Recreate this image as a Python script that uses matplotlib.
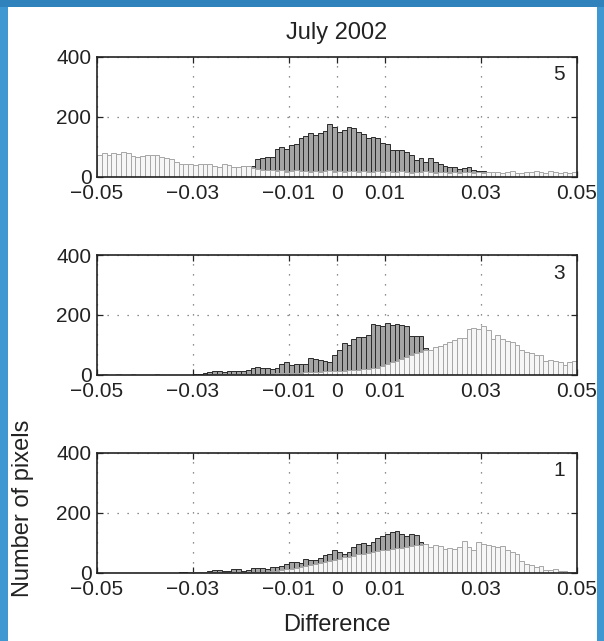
import matplotlib.pyplot as plt
from matplotlib.patches import Rectangle
import numpy as np

plt.rcParams['font.family'] = ['Liberation Sans', 'DejaVu Sans']

# bin edges of the histograms: 100 bins of 0.001 between -0.05 and 0.05
bin_lo = -0.05
bin_w = 0.001

# panel "5"
dark5 = [12, 15, 14, 18, 16, 20, 17, 15, 18, 16,
         14, 17, 15, 16, 18, 15, 17, 14, 16, 18,
         17, 19, 18, 20, 22, 21, 24, 23, 26, 30,
         37, 37, 37, 59, 62, 68, 68, 95, 101, 95,
         107, 109, 129, 137, 148, 140, 148, 154, 177, 168,
         151, 157, 166, 162, 151, 145, 129, 135, 129, 112,
         110, 90, 90, 90, 84, 73, 57, 62, 51, 62,
         51, 43, 37, 32, 32, 26, 29, 34, 23, 21,
         21, 15, 10, 8, 7, 6, 5, 5, 4, 4,
         3, 3, 2, 2, 2, 1, 1, 1, 1, 1]
light5 = [73, 79, 73, 81, 77, 85, 79, 71, 68, 71,
          73, 73, 73, 68, 64, 59, 51, 45, 42, 43,
          40, 43, 45, 43, 37, 32, 45, 40, 32, 35,
          37, 37, 30, 28, 25, 22, 24, 20, 22, 18,
          20, 22, 19, 21, 18, 20, 17, 19, 22, 18,
          20, 17, 19, 21, 18, 20, 16, 18, 20, 17,
          19, 16, 18, 20, 17, 15, 18, 16, 19, 17,
          15, 18, 16, 14, 17, 15, 18, 16, 14, 17,
          15, 17, 18, 16, 14, 17, 19, 15, 13, 18,
          16, 20, 17, 14, 19, 16, 15, 18, 14, 17]

# panel "3"
dark3 = [0, 0, 1, 0, 0, 1, 0, 0, 0, 1,
         0, 0, 0, 1, 0, 0, 0, 0, 1, 0,
         2, 3, 6, 10, 14, 12, 9, 12, 14, 14,
         15, 17, 24, 27, 22, 22, 21, 24, 38, 42,
         35, 37, 38, 38, 57, 52, 49, 47, 44, 68,
         82, 107, 100, 120, 126, 126, 133, 169, 166, 162,
         173, 166, 169, 166, 164, 129, 129, 131, 90, 60,
         50, 45, 40, 35, 30, 25, 20, 18, 15, 12,
         10, 8, 7, 6, 5, 4, 3, 3, 2, 2,
         2, 1, 1, 1, 1, 0, 0, 0, 0, 0]
light3 = [1, 2, 0, 1, 3, 1, 0, 2, 1, 0,
          1, 0, 2, 1, 0, 1, 0, 0, 1, 0,
          0, 0, 1, 1, 2, 2, 1, 2, 2, 3,
          3, 3, 4, 4, 5, 5, 5, 6, 6, 7,
          7, 8, 8, 9, 10, 10, 11, 12, 12, 13,
          14, 15, 16, 17, 18, 19, 20, 22, 25, 30,
          36, 42, 48, 54, 60, 66, 72, 78, 84, 85,
          92, 98, 104, 110, 118, 124, 125, 155, 157, 153,
          162, 151, 120, 133, 120, 115, 109, 100, 82, 77,
          75, 68, 66, 46, 49, 46, 42, 35, 44, 48]

# panel "1"
dark1 = [0, 0, 0, 0, 0, 0, 0, 0, 0, 0,
         0, 0, 0, 0, 0, 0, 0, 2, 3, 3,
         3, 4, 5, 7, 11, 10, 6, 8, 15, 12,
         8, 10, 17, 17, 16, 15, 19, 21, 24, 29,
         37, 36, 34, 46, 43, 42, 51, 61, 63, 77,
         69, 63, 69, 86, 97, 99, 95, 103, 118, 122,
         131, 137, 141, 130, 122, 129, 126, 103, 97, 60,
         50, 40, 35, 30, 25, 20, 16, 12, 10, 8,
         6, 5, 4, 3, 3, 2, 2, 1, 1, 1,
         1, 0, 0, 0, 0, 0, 0, 0, 0, 0]
light1 = [0, 0, 0, 0, 0, 0, 0, 0, 0, 0,
          0, 0, 0, 0, 0, 0, 0, 1, 1, 2,
          2, 2, 3, 3, 3, 2, 3, 4, 3, 4,
          3, 4, 4, 4, 4, 5, 6, 8, 10, 12,
          15, 17, 20, 23, 26, 30, 33, 36, 40, 44,
          48, 52, 55, 58, 62, 65, 68, 70, 73, 76,
          78, 80, 83, 85, 88, 90, 92, 95, 97, 86,
          95, 91, 80, 83, 80, 86, 106, 86, 77, 103,
          97, 94, 91, 86, 91, 77, 69, 65, 40, 31,
          26, 19, 23, 11, 11, 15, 6, 6, 3, 3]

panel_labels = ['5', '3', '1']
xticks = [-0.05, -0.03, -0.01, 0, 0.01, 0.03, 0.05]
xticklabels = ['\u22120.05', '\u22120.03', '\u22120.01', '0', '0.01', '0.03', '0.05']
yticks = [0, 200, 400]

W, H = 604, 641
fig = plt.figure(figsize=(W / 100, H / 100), dpi=100)
fig.patch.set_facecolor('#3f98d2')
fig.patches.append(Rectangle((0, 1 - 7 / H), 1, 7 / H, transform=fig.transFigure,
                             facecolor='#2f82bb', edgecolor='none', zorder=-10))
fig.patches.append(Rectangle((8 / W, 0), (597 - 8) / W, 1 - 7 / H, transform=fig.transFigure,
                             facecolor='white', edgecolor='none', zorder=-10))

centers = bin_lo + bin_w * (np.arange(len(dark5)) + 0.5)
bottoms = [177, 375, 573]
data = [(dark5, light5), (dark3, light3), (dark1, light1)]

for (dark, light), lab, b in zip(data, panel_labels, bottoms):
    ax = fig.add_axes([97 / W, 1 - b / H, 480 / W, 120 / H])
    ax.set_axisbelow(True)
    ax.bar(centers, dark, width=bin_w, color='#a4a4a4', edgecolor='#2a2a2a',
           linewidth=0.7, zorder=2)
    ax.bar(centers, light, width=bin_w, color='#f6f6f6', edgecolor='#a6a6a6',
           linewidth=0.7, zorder=3)
    ax.set_xlim(-0.05, 0.05)
    ax.set_ylim(0, 400)
    ax.set_xticks(xticks)
    ax.set_xticklabels(xticklabels)
    ax.set_yticks(yticks)
    ax.grid(True, linestyle=(0, (1, 7)), color='#6a6a6a', linewidth=0.9)
    ax.tick_params(direction='in', top=True, right=True, length=4, width=0.9,
                   labelsize=15, colors='#222222')
    ax.tick_params(axis='x', pad=5)
    ax.tick_params(axis='y', pad=4)
    for s in ax.spines.values():
        s.set_linewidth(1.2)
        s.set_color('#222222')
        s.set_zorder(5)
    ax.text(0.962, 0.85, lab, transform=ax.transAxes, ha='center', va='center',
            fontsize=15, color='#222222')

fig.text(337 / W, 1 - 33 / H, 'July 2002', ha='center', va='center', fontsize=17,
         color='#222222')
fig.text(337 / W, 1 - 625 / H, 'Difference', ha='center', va='center', fontsize=17,
         color='#222222')
fig.text(23 / W, 1 - 508 / H, 'Number of pixels', ha='center', va='center',
         rotation=90, fontsize=17, color='#222222')

fig.savefig('out.png', dpi=100, facecolor=fig.get_facecolor())
